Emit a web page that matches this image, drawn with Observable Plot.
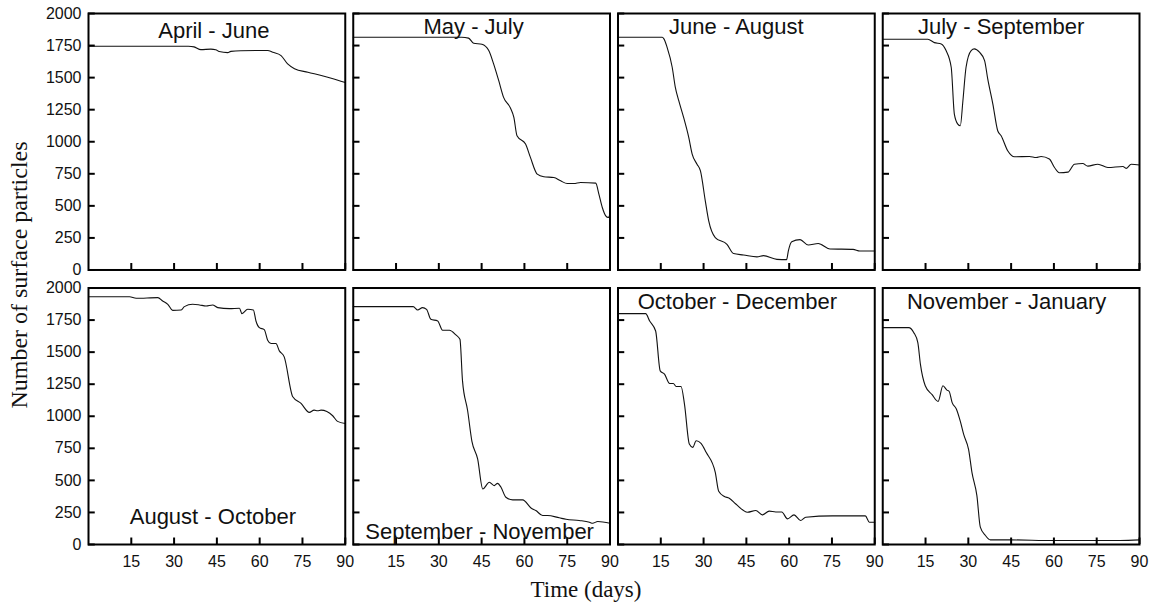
<!DOCTYPE html>
<html>
<head>
<meta charset="utf-8">
<script src="https://cdn.jsdelivr.net/npm/d3@7"></script>
<script src="https://cdn.jsdelivr.net/npm/@observablehq/plot@0.6"></script>
<style>
  html, body { margin: 0; padding: 0; background: #fff; }
  #wrap { position: relative; width: 1155px; height: 609px; overflow: hidden; }
  #ytitle { position: absolute; left: 19px; top: 275px; transform: translate(-50%, -50%) rotate(-90deg);
            font-family: "Liberation Serif", "DejaVu Serif", serif; font-size: 24px; white-space: nowrap; color: #111; }
  #xtitle { position: absolute; left: 586px; top: 590px; transform: translate(-50%, -50%);
            font-family: "Liberation Serif", "DejaVu Serif", serif; font-size: 23px; white-space: nowrap; color: #111; }
</style>
</head>
<body>
<div id="wrap">
  <div id="chart"></div>
  <div id="ytitle">Number of surface particles</div>
  <div id="xtitle">Time (days)</div>
</div>
<script>
// ---- Data (day, number of surface particles) ----
const aprJun = [[0,1745],[35,1745],[37,1740],[39.4,1718],[42.9,1722],[44.6,1718],[45.8,1703],[48.8,1695],[49.9,1705],[53.4,1710],[62.8,1712],[64.6,1698],[67.5,1672],[69.8,1607],[72.2,1570],[76.9,1542],[81.6,1516],[85.1,1495],[90,1462]];
const mayJul = [[0,1815],[38,1815],[40.4,1808],[42.2,1768],[45.1,1760],[47.5,1711],[49.2,1607],[51,1476],[52.7,1346],[55.1,1263],[56.3,1190],[57.4,1047],[60.4,982],[62.1,878],[64.5,747],[66.8,727],[70.3,721],[72.7,695],[75,674],[77.3,674],[79.7,682],[85,677],[86.1,591],[87.3,487],[88.5,422],[89.4,409],[90,435]];
const junAug = [[0,1815],[15.5,1815],[16.1,1802],[17.2,1737],[19,1581],[20.1,1424],[21.3,1320],[23,1190],[24.8,1034],[26,904],[27.7,825],[28.9,773],[30.6,539],[31.8,383],[34.1,253],[38.2,200],[40.5,128],[44,117],[48.7,102],[51,112],[55.7,83],[59.1,81],[59.7,148],[60.9,221],[63.8,237],[66.7,195],[70.2,206],[74.3,164],[82.4,161],[84.8,148],[90,148]];
const julSep = [[0,1799],[15.8,1799],[18.1,1773],[20.5,1763],[22.2,1711],[24,1581],[25.1,1216],[26.3,1138],[27.2,1125],[28.1,1320],[29.2,1581],[31,1711],[32.1,1724],[33.9,1698],[35.7,1633],[36.8,1490],[38.6,1294],[40.3,1086],[41.5,1047],[43.8,930],[46.2,883],[51.4,885],[53.8,877],[55.5,885],[58.4,865],[60.2,799],[61.9,758],[64.9,763],[67.2,825],[70.1,830],[71.9,810],[75.4,825],[78.9,799],[84.2,807],[85.3,792],[87.1,825],[90,818]];
const augOct = [[0,1932],[14.4,1932],[16.7,1920],[24.3,1925],[26,1899],[27.8,1873],[29.5,1826],[32.5,1829],[33.6,1855],[36.5,1873],[38.9,1868],[41.2,1860],[43.5,1868],[45.3,1847],[49.4,1839],[52.9,1842],[53.8,1800],[55.8,1834],[57.8,1829],[58.7,1743],[59.9,1691],[61.6,1676],[62.8,1593],[64,1567],[65.7,1567],[66.9,1510],[68.6,1463],[71.6,1152],[74.5,1100],[77.4,1030],[79.1,1048],[80.3,1043],[81.5,1048],[85.6,1004],[87.3,960],[90,944]];
const sepNov = [[0,1855],[21,1855],[22.6,1829],[24.3,1847],[25.7,1834],[27.2,1756],[29.6,1743],[31.3,1671],[33.7,1671],[36,1634],[37.4,1600],[38.3,1276],[40.1,1043],[41.6,804],[43.6,667],[45.4,433],[47.7,485],[49.4,459],[50.6,477],[51.8,446],[53.5,368],[55.9,348],[59.4,348],[62.3,285],[64,265],[66.4,226],[68.1,226],[72.2,208],[74.6,197],[79.2,187],[82.8,174],[83.9,166],[85.7,179],[90,166]];
const octDec = [[0,1800],[9.7,1800],[11.1,1743],[13.2,1665],[14.8,1354],[16.3,1328],[18.1,1255],[19.4,1255],[20.4,1232],[22.1,1232],[23.3,1095],[25,783],[26.2,757],[27.4,809],[29.1,789],[30.9,719],[34.1,563],[35.3,415],[37.3,374],[39,361],[41.3,316],[45.4,252],[48.3,265],[50.6,231],[53,260],[55.3,254],[57.4,254],[59.4,200],[61.7,231],[64,187],[65.8,213],[75.1,223],[86.7,223],[88.1,174],[90,174]];
const novJan = [[0,1691],[9.1,1691],[10.9,1652],[12.3,1574],[13.2,1406],[14.9,1238],[17.3,1168],[19.4,1116],[21.1,1238],[22.5,1204],[23.3,1193],[24.3,1108],[25.8,1057],[27.2,960],[28.4,856],[30.1,740],[31.3,558],[33,381],[34.2,135],[36,70],[37.7,36],[44.7,36],[59.9,31],[83.2,31],[90,36]];

const panelTitles = ["April - June","May - July","June - August","July - September",
                     "August - October","September - November","October - December","November - January"];
const panelSeries = [aprJun, mayJul, junAug, julSep, augOct, sepNov, octDec, novJan];
const xTicks = [15, 30, 45, 60, 75, 90];
const yTicks = [0, 250, 500, 750, 1000, 1250, 1500, 1750, 2000];

// ---- Layout (title placement per panel) ----
const titleLayout = [
  {anchor: "top", dx: -3, dy: 17}, {anchor: "top", dx: -8, dy: 13.6},
  {anchor: "top", dx: -10, dy: 13}, {anchor: "top", dx: -10, dy: 13.6},
  {anchor: "bottom", dx: -4, dy: -27.4}, {anchor: "bottom", dx: -2, dy: -12.4},
  {anchor: "top", dx: -9, dy: 14}, {anchor: "top", dx: -4.5, dy: 14}
];

const rows = panelSeries.flatMap((s, i) => s.map(([day, n]) => ({panel: i, day, n, col: i % 4, row: Math.floor(i / 4)})));
const titles = panelTitles.map((t, i) => ({t, col: i % 4, row: Math.floor(i / 4), ...titleLayout[i]}));
const yLab = yTicks.flatMap(v => [0, 1].map(r => ({v, row: r})));
const xLab = xTicks.flatMap(v => [0, 1, 2, 3].map(c => ({v, col: c})));

const font = "'Liberation Sans', Arial, Helvetica, sans-serif";

const marks = [
  Plot.line(rows, {x: "day", y: "n", z: "panel", fx: "col", fy: "row", stroke: "#111", strokeWidth: 1.1, curve: "monotone-x"}),
  Plot.tickX(xTicks, {x: d => d, stroke: "#000", strokeWidth: 2, insetTop: 250}),
  Plot.tickY(yTicks, {y: d => d, stroke: "#000", strokeWidth: 2, insetRight: 250}),
  Plot.frame({stroke: "#000", strokeWidth: 2}),
  Plot.text(yLab, {y: "v", text: d => String(d.v), fx: () => 0, fy: "row", frameAnchor: "left", textAnchor: "end", dx: -7, fontSize: 16, fill: "#111"}),
  Plot.text(xLab, {x: "v", text: d => String(d.v), fx: "col", fy: () => 1, frameAnchor: "bottom", lineAnchor: "middle", dy: 17, fontSize: 16, fill: "#111"}),
  ...titles.map(d => Plot.text([d], {text: "t", fx: "col", fy: "row", frameAnchor: d.anchor, lineAnchor: "middle", dx: d.dx, dy: d.dy, fontSize: 22, fill: "#111"}))
];

const chart = Plot.plot({
  width: 1155,
  height: 609,
  marginTop: 13,
  marginBottom: 65,
  marginLeft: 88,
  marginRight: 16,
  x: {domain: [0, 90], axis: null},
  y: {domain: [0, 2000], axis: null},
  fx: {domain: [0, 1, 2, 3], paddingInner: 8 / 265, paddingOuter: 0, axis: null, round: false},
  fy: {domain: [0, 1], paddingInner: 18 / 274, paddingOuter: 0, axis: null, round: false},
  style: {fontFamily: font, fontSize: "16px", background: "#fff", color: "#111", overflow: "visible"},
  marks
});
document.getElementById("chart").appendChild(chart);
</script>
</body>
</html>
